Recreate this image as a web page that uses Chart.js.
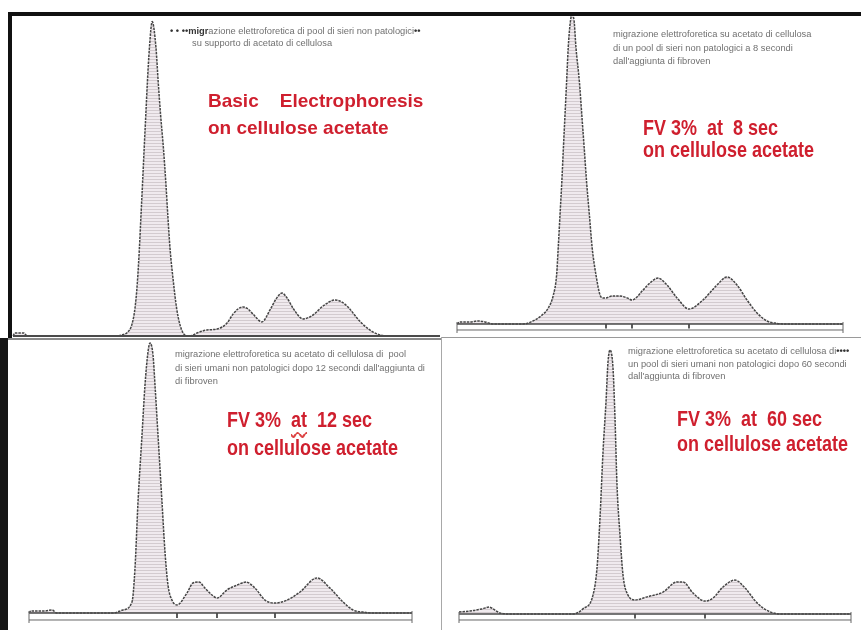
<!DOCTYPE html>
<html>
<head>
<meta charset="utf-8">
<script src="https://cdn.jsdelivr.net/npm/chart.js@4.4.1/dist/chart.umd.min.js"></script>
<style>
  body { margin: 0; background: #fff; width: 861px; height: 630px; position: relative; overflow: hidden; font-family: "Liberation Sans", Arial, sans-serif; }
  canvas { position: absolute; }
  .rule { position: absolute; }
  .note { position: absolute; font-size: 9.3px; color: #707070; white-space: pre; }
  .title { position: absolute; font-weight: bold; color: #cf1f2e; white-space: pre; transform-origin: 0 0; }
</style>
</head>
<body>

<canvas id="p1" width="428" height="325" style="left:12px;top:14px"></canvas>
<canvas id="p2" width="410" height="322" style="left:445px;top:14px"></canvas>
<canvas id="p3" width="432" height="289" style="left:8px;top:339px"></canvas>
<canvas id="p4" width="416" height="289" style="left:443px;top:339px"></canvas>

<!-- frame -->
<div class="rule" style="left:8px;top:12px;width:853px;height:4px;background:#111"></div>
<div class="rule" style="left:8px;top:12px;width:4px;height:326px;background:#111"></div>
<div class="rule" style="left:0;top:338px;width:8px;height:292px;background:#161616"></div>
<div class="rule" style="left:8px;top:338px;width:433px;height:2px;background:#8a8a8a"></div>
<div class="rule" style="left:441px;top:337px;width:420px;height:1px;background:#9a9a9a"></div>
<div class="rule" style="left:441px;top:337px;width:1px;height:293px;background:#a8a8a8"></div>

<!-- small captions -->
<div class="note" style="left:170px;top:25px;line-height:12px"><b style="color:#333">&bull; &bull; &bull;&bull;migr</b>azione elettroforetica di pool di sieri non patologici<b style="color:#333">&bull;&bull;</b></div>
<div class="note" style="left:192px;top:37px;line-height:12px">su supporto di acetato di cellulosa</div>
<div class="note" style="left:613px;top:28px;line-height:13.5px">migrazione elettroforetica su acetato di cellulosa
di un pool di sieri non patologici a 8 secondi
dall'aggiunta di fibroven</div>
<div class="note" style="left:175px;top:348px;line-height:13.5px">migrazione elettroforetica su acetato di cellulosa di  pool
di sieri umani non patologici dopo 12 secondi dall'aggiunta di
di fibroven</div>
<div class="note" style="left:628px;top:345px;line-height:12.5px">migrazione elettroforetica su acetato di cellulosa di<b style="color:#333">&bull;&bull;&bull;&bull;</b>
un pool di sieri umani non patologici dopo 60 secondi
dall'aggiunta di fibroven</div>

<!-- red titles -->
<div class="title" style="left:208px;top:87px;font-size:19px;line-height:27px">Basic    Electrophoresis
on cellulose acetate</div>
<div class="title" style="left:643px;top:117px;font-size:18px;line-height:18.3px;transform:scaleY(1.2)">FV 3%  at  8 sec
on cellulose acetate</div>
<div class="title" style="left:227px;top:407px;font-size:18px;line-height:22.5px;transform:scaleY(1.2)">FV 3%  <span style="text-decoration:underline wavy #d44;text-underline-offset:3px">at</span>  12 sec
on cellulose acetate</div>
<div class="title" style="left:677px;top:407px;font-size:18px;line-height:20.8px;transform:scaleY(1.2)">FV 3%  at  60 sec
on cellulose acetate</div>

<script>
'use strict';

// densitometric scans: migration position (mm) and optical density (arbitrary units)

// basic electrophoresis
let p1Pos = [0, 0.5, 2.75, 3.5,
  26, 27.6, 28.6, 29.7, 30.5, 31.1, 31.6, 32, 32.4, 32.8, 33.2, 33.6, 34.1, 34.8,
  35.75, 36.3, 36.9, 37.6, 38.2, 38.7, 39.25, 40.1, 40.9, 41.75, 43, 44.25,
  46, 48.5, 51, 53.5, 55, 56.25, 57.5, 58.75, 60, 62.25, 64.25, 65.75, 67.25, 68.5, 70, 72.5,
  75, 77.5, 80.5, 82.25, 84, 86, 88.5, 91, 93.5, 106.75];
let p1Dens = [0, 1, 1, 0,
  0, 0.5, 1.2, 3.7, 9.3, 18, 29.3, 40.3, 51.3, 62.7, 73.7, 84.7, 96, 104.8,
  96, 84.7, 73.7, 62.7, 51.3, 40.3, 29.3, 18, 9.3, 3.7, 0.3, 0,
  1, 2, 2.3, 4.3, 7.3, 9, 9.7, 9, 7.3, 4.7, 8.7, 12.3, 14.3, 12.7, 9.3, 5.7,
  7, 10, 12, 11.3, 9.3, 6, 2.7, 0.7, 0, 0];
let p1Cuts = [51, 62.25, 72.5];

// FV 3% at 8 sec
let p2Pos = [0, 0.75, 3.25, 5.25, 7, 9,
  16.5, 18.5, 21, 22.8, 24.1, 24.9, 25.3, 25.75, 26.2, 26.6, 27, 27.4, 27.8, 28.25, 28.7,
  29.25, 29.75, 30.6, 31.2, 31.8, 32.4, 33.1, 33.8, 34.75, 35.75, 36.5, 37.25,
  38.75, 40.75, 42.5, 43.75, 46.5, 48.25, 50.25, 52.5, 55, 58, 61.5, 65, 67.5, 70, 72.5, 75,
  77.5, 79.5, 82, 96.5];
let p2Dens = [0, 0.7, 0.7, 1, 0.7, 0,
  0, 0.7, 2.7, 5.3, 9.7, 16.3, 25.3, 36.3, 47.3, 58.7, 69.7, 80.7, 92, 99.7, 103,
  101.3, 92, 80.7, 69.7, 58.7, 47.3, 36.3, 25.3, 16.3, 9.7, 8.7, 8.7,
  9.3, 9.3, 8.7, 8, 11.3, 13.7, 15.3, 13, 8.7, 5, 8, 13, 15.7, 13, 8, 3.7,
  1, 0.3, 0, 0];
let p2Cuts = [37.25, 43.75, 58];

// FV 3% at 12 sec
let p3Pos = [0, 0.5, 4, 5.75, 7, 21, 23.5, 25.75, 26.5, 27.25, 28.25, 29, 29.75, 30.25, 31, 31.5,
  32.25, 33.25, 34, 34.75, 35.75, 37, 39.5, 41, 42.5, 44, 45.75, 47, 49.5, 52, 54.25, 56.5, 59,
  61.5, 64.5, 67.75, 72, 75.25, 78.5, 81, 83.5, 86, 95.75];
let p3Dens = [0, 0.7, 0.7, 1, 0, 0, 1, 3.7, 15, 37, 59.3, 76, 87, 90, 86, 76,
  59.3, 37, 20.3, 9.3, 4.3, 2.7, 6.7, 10, 10.3, 8.3, 6, 5, 7.7, 9.3, 10.3, 8.3, 4.3,
  3.3, 4.3, 7, 11.7, 8.3, 3.7, 1, 0.3, 0, 0];
let p3Cuts = [37, 47, 61.5];

// FV 3% at 60 sec
let p4Pos = [0, 2.75, 5.75, 7.5, 9, 10.25, 12.75, 28.5, 31, 33.5, 34.5, 35.25, 36, 36.75, 37.25, 37.75,
  38.5, 39, 39.5, 40.25, 41, 42.25, 44, 47, 51, 54.5, 56, 58.5, 61.5, 63.5, 66, 69, 71.5, 74.5,
  77.75, 81, 98];
let p4Dens = [0.7, 1, 1.7, 2.3, 1.3, 0.3, 0, 0, 1.7, 6.3, 15.3, 32, 54, 70.7, 84, 88,
  82, 65.3, 43, 26.3, 13, 6.3, 4.7, 5.7, 7.3, 10.7, 10.7, 7, 4.3, 5.3, 9, 11.3, 8.7, 3.7,
  0.7, 0, 0];
let p4Cuts = [44, 61.5];

// striped grey fill like the densitometer print
function makeHatch() {
  let c = document.createElement('canvas');
  c.width = 2; c.height = 3;
  let g = c.getContext('2d');
  g.fillStyle = '#f0eaee';
  g.fillRect(0, 0, 2, 3);
  g.fillStyle = '#d3cbcf';
  g.fillRect(0, 0, 2, 1);
  return g.createPattern(c, 'repeat');
}
let hatch = makeHatch();

// baseline + double scan axis with end marks
let scanAxis = {
  id: 'scanAxis',
  afterDatasetsDraw(chart, args, opts) {
    let ctx = chart.ctx;
    let xs = chart.scales.x, ys = chart.scales.y;
    let x0 = xs.getPixelForValue(opts.from), x1 = xs.getPixelForValue(opts.to);
    let yb = ys.getPixelForValue(0);
    ctx.save();
    ctx.strokeStyle = '#4a4a4a';
    ctx.lineWidth = opts.heavy ? 2.2 : 1.3;
    ctx.beginPath();
    ctx.moveTo(x0, yb); ctx.lineTo(x1, yb);
    ctx.stroke();
    if (opts.second !== null) {
      let y2 = ys.getPixelForValue(opts.second);
      ctx.lineWidth = 1;
      ctx.strokeStyle = '#666';
      ctx.beginPath();
      ctx.moveTo(x0, y2); ctx.lineTo(x1, y2);
      ctx.moveTo(x0, yb - 2); ctx.lineTo(x0, y2 + 3);
      ctx.moveTo(x1, yb - 2); ctx.lineTo(x1, y2 + 3);
      ctx.stroke();
    }
    ctx.restore();
  }
};

function renderPanel(id, pos, dens, cuts, view, axis) {
  let pts = [];
  for (let i = 0; i < pos.length; i++) {
    pts.push({ x: pos[i], y: dens[i] });
  }
  let sets = [{
    data: pts,
    borderColor: '#454545',
    borderWidth: 1.5,
    borderDash: [2.5, 1],
    backgroundColor: hatch,
    fill: 'origin',
    pointRadius: 0,
    cubicInterpolationMode: 'monotone',
    clip: false
  }];
  // fraction cut lines, drawn up to the trace
  for (let i = 0; i < cuts.length; i++) {
    let top = dens[pos.indexOf(cuts[i])];
    sets.push({
      data: [{ x: cuts[i], y: axis.cutLow }, { x: cuts[i], y: top }],
      borderColor: '#333',
      borderWidth: 1.6,
      pointRadius: 0,
      fill: false
    });
  }
  new Chart(document.getElementById(id), {
    type: 'line',
    data: { datasets: sets },
    options: {
      responsive: false,
      animation: false,
      events: [],
      layout: { padding: 0 },
      plugins: {
        legend: { display: false },
        tooltip: { enabled: false },
        scanAxis: axis
      },
      scales: {
        x: { type: 'linear', min: view[0], max: view[1], display: false },
        y: { min: view[2], max: view[3], display: false }
      }
    },
    plugins: [scanAxis]
  });
}

renderPanel('p1', p1Pos, p1Dens, p1Cuts, [-0.25, 106.75, -1, 107.33],
  { from: 0, to: 106.75, second: null, heavy: true, cutLow: 0 });
renderPanel('p2', p2Pos, p2Dens, p2Cuts, [-3, 99.5, -4, 103.33],
  { from: 0, to: 96.5, second: -2, heavy: false, cutLow: -1.5 });
renderPanel('p3', p3Pos, p3Dens, p3Cuts, [-5.25, 102.75, -5, 91.33],
  { from: 0, to: 95.75, second: -2.33, heavy: false, cutLow: -1.7 });
renderPanel('p4', p4Pos, p4Dens, p4Cuts, [-4, 100, -4.67, 91.67],
  { from: 0, to: 98, second: -2, heavy: false, cutLow: -1.5 });
</script>
</body>
</html>
